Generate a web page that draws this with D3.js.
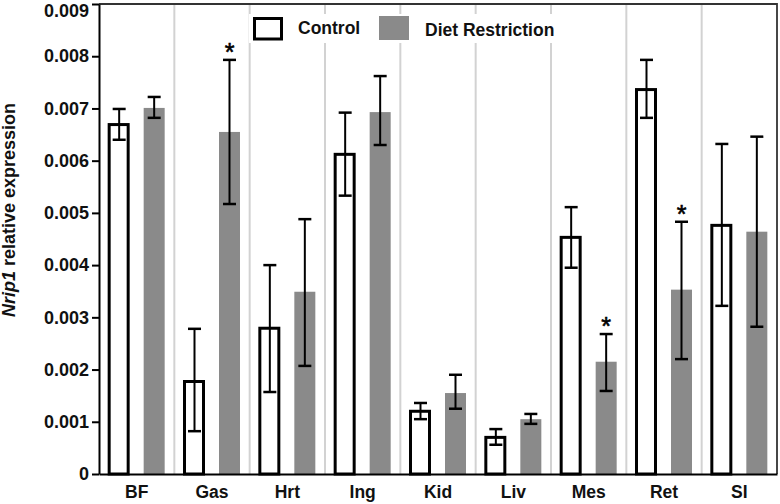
<!DOCTYPE html>
<html>
<head>
<meta charset="utf-8">
<script src="https://cdn.jsdelivr.net/npm/d3@7"></script>
<style>
html,body{margin:0;padding:0;background:#fff;}
svg{display:block;font-family:"Liberation Sans",Arial,sans-serif;}
</style>
</head>
<body>
<svg id="chart" width="780" height="504"></svg>
<script>
const categories = ["BF","Gas","Hrt","Ing","Kid","Liv","Mes","Ret","SI"];
const seriesNames = ["Control","Diet Restriction"];
const controlMean = [0.00672,0.00180,0.00282,0.00615,0.00123,0.00073,0.00456,0.00739,0.00479];
const controlLow  = [0.00640,0.00082,0.00157,0.00533,0.00105,0.00056,0.00395,0.00682,0.00322];
const controlHigh = [0.00699,0.00278,0.00400,0.00692,0.00136,0.00086,0.00511,0.00793,0.00632];
const drMean = [0.00701,0.00655,0.00349,0.00693,0.00155,0.00105,0.00215,0.00353,0.00464];
const drLow  = [0.00682,0.00517,0.00207,0.00630,0.00125,0.00096,0.00159,0.00220,0.00282];
const drHigh = [0.00722,0.00793,0.00488,0.00762,0.00190,0.00115,0.00268,0.00483,0.00646];
const drSignificant = [false,true,false,false,false,false,true,true,false];
const yTicks = [0,0.001,0.002,0.003,0.004,0.005,0.006,0.007,0.008,0.009];

const svg = d3.select("#chart");
const L = 99, R = 777, T = 4, B = 474;

const x0 = d3.scaleBand().domain(categories).range([L, R]).padding(0);
const bw = x0.bandwidth();
const x1 = d3.scalePoint().domain(seriesNames).range([bw/2 - 17.5, bw/2 + 17.5]);
const y = d3.scaleLinear().domain([0, 0.009]).range([B, T]);
const barW = 21;

// separators
svg.append("g").selectAll("line").data(categories.slice(1)).join("line")
  .attr("x1", d => x0(d)).attr("x2", d => x0(d))
  .attr("y1", T).attr("y2", B)
  .attr("stroke", "#d2d2d2").attr("stroke-width", 2);

// frame top and right
svg.append("path").attr("d", `M${L},${T}H${R}V${B}`)
  .attr("fill","none").attr("stroke","#333").attr("stroke-width",1.8);

const data = categories.map((c,i) => ({
  cat: c,
  vals: [
    {s: seriesNames[0], m: controlMean[i], lo: controlLow[i], hi: controlHigh[i], sig: false},
    {s: seriesNames[1], m: drMean[i], lo: drLow[i], hi: drHigh[i], sig: drSignificant[i]}
  ]
}));

const groups = svg.append("g").selectAll("g").data(data).join("g")
  .attr("transform", d => `translate(${x0(d.cat)},0)`);

groups.selectAll("rect").data(d => d.vals).join("rect")
  .attr("x", d => x1(d.s) - barW/2 + (d.s === "Control" ? 0.5 : 0))
  .attr("y", d => y(d.m) + (d.s === "Control" ? 1.5 : 0))
  .attr("width", d => d.s === "Control" ? barW - 2 : barW)
  .attr("height", d => B - y(d.m) - (d.s === "Control" ? 1.5 : 0))
  .attr("fill", d => d.s === "Control" ? "#fff" : "#8a8a8a")
  .attr("stroke", d => d.s === "Control" ? "#000" : "none")
  .attr("stroke-width", 3);

const eb = groups.selectAll("g.eb").data(d => d.vals).join("g").attr("class","eb");
eb.append("line")
  .attr("x1", d => x1(d.s)).attr("x2", d => x1(d.s))
  .attr("y1", d => y(d.hi)).attr("y2", d => y(d.lo))
  .attr("stroke","#000").attr("stroke-width",2);
eb.selectAll("line.cap").data(d => [{x: x1(d.s), v: d.hi},{x: x1(d.s), v: d.lo}]).join("line")
  .attr("class","cap")
  .attr("x1", d => d.x - 6.5).attr("x2", d => d.x + 6.5)
  .attr("y1", d => y(d.v)).attr("y2", d => y(d.v))
  .attr("stroke","#000").attr("stroke-width",2.5);

groups.selectAll("text.star").data(d => d.vals.filter(v => v.sig)).join("text")
  .attr("class","star")
  .attr("x", d => x1(d.s)).attr("y", d => y(d.hi) + 1)
  .attr("text-anchor","middle")
  .attr("font-size", 25).attr("stroke","#000").attr("stroke-width",0.6)
  .text("*");

// y axis
const yAxis = d3.axisLeft(y).tickValues(yTicks)
  .tickFormat(d => d === 0 ? "0" : d3.format(".3f")(d))
  .tickSize(7).tickSizeOuter(0).tickPadding(3);
const gy = svg.append("g").attr("transform", `translate(${L},0)`).call(yAxis);
gy.select(".domain").attr("stroke","#000").attr("stroke-width",2);
gy.selectAll(".tick line").attr("stroke","#000").attr("stroke-width",2);
gy.selectAll(".tick text").attr("font-size",18).attr("font-weight","bold")
  .attr("fill","#111").attr("font-family","Liberation Sans, Arial, sans-serif")
  .attr("dy", d => d === 0.009 ? "0.72em" : "0.32em");

// x axis
const xAxis = d3.axisBottom(x0).tickSize(0).tickPadding(12);
const gx = svg.append("g").attr("transform", `translate(0,${B})`).call(xAxis);
gx.select(".domain").attr("stroke","#000").attr("stroke-width",2);
gx.selectAll(".tick text").attr("font-size",17.5).attr("font-weight","bold")
  .attr("fill","#111").attr("font-family","Liberation Sans, Arial, sans-serif");

// y title
const yt = svg.append("text")
  .attr("transform", "translate(15,210) rotate(-90)")
  .attr("text-anchor","middle")
  .attr("font-size",18).attr("font-weight","bold").attr("fill","#111");
yt.append("tspan").attr("font-style","italic").text("Nrip1");
yt.append("tspan").text(" relative expression");

// legend
const lg = svg.append("g");
lg.append("rect").attr("x",249).attr("y",14).attr("width",312).attr("height",29).attr("fill","#fff");
lg.append("rect").attr("x",254.5).attr("y",18.5).attr("width",27).attr("height",20.5)
  .attr("fill","#fff").attr("stroke","#000").attr("stroke-width",3);
lg.append("text").attr("x",298).attr("y",34).attr("font-size",17.5).attr("font-weight","bold")
  .attr("fill","#111").text(seriesNames[0]);
lg.append("rect").attr("x",379).attr("y",16).attr("width",30).attr("height",24).attr("fill","#8a8a8a");
lg.append("text").attr("x",425).attr("y",36).attr("font-size",17.5).attr("font-weight","bold")
  .attr("fill","#111").text(seriesNames[1]);
</script>
</body>
</html>
